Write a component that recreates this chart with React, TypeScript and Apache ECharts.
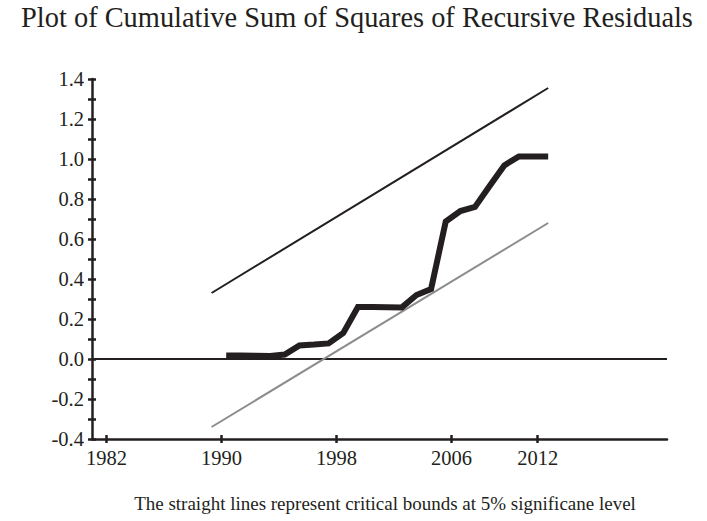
import React, { useEffect, useRef } from "react";
import * as echarts from "echarts";

const titleText = "Plot of Cumulative Sum of Squares of Recursive Residuals";
const captionText = "The straight lines represent critical bounds at 5% significane level";

// x tick labels (years shown on the axis)
const xTickYears = [1982, 1990, 1998, 2006, 2012];

// observations
const years = [
  1990, 1991, 1992, 1993, 1994, 1995, 1996, 1997, 1998, 1999, 2000, 2001,
  2002, 2003, 2004, 2005, 2006, 2007, 2008, 2009, 2010, 2011, 2012,
];
const cusumSq = [
  0.018, 0.017, 0.016, 0.015, 0.022, 0.068, 0.072, 0.078, 0.13, 0.26, 0.26,
  0.259, 0.258, 0.32, 0.35, 0.687, 0.74, 0.76, 0.865, 0.968, 1.013, 1.013,
  1.013,
];

// critical bounds (straight lines)
const boundYears = [1989, 2012];
const upperBound = [0.33, 1.355];
const lowerBound = [-0.34, 0.68];

const INK = "#231f20";
const FONT = "'Liberation Serif', 'Times New Roman', serif";

export default function App() {
  const ref = useRef<HTMLDivElement>(null);

  useEffect(() => {
    if (!ref.current) return;
    const chart = echarts.init(ref.current, null, { renderer: "svg" });

    const yLabelFmt = (v: number) =>
      Math.round(v * 10) % 2 === 0 ? v.toFixed(1) : "";

    const yBase = {
      type: "value" as const,
      min: -0.4,
      max: 1.4,
      interval: 0.1,
      splitLine: { show: false },
    };

    chart.setOption({
      animation: false,
      backgroundColor: "#ffffff",
      grid: { left: 92, right: 40, top: 79, bottom: 82, containLabel: false },
      graphic: [
        {
          type: "text",
          x: 357,
          y: 31,
          style: {
            text: titleText,
            fontFamily: FONT,
            fontSize: 28.4,
            fill: INK,
            textAlign: "center",
            textVerticalAlign: "bottom",
          },
          silent: true,
        },
        {
          type: "text",
          x: 385,
          y: 513,
          style: {
            text: captionText,
            fontFamily: FONT,
            fontSize: 19,
            fill: INK,
            textAlign: "center",
            textVerticalAlign: "bottom",
          },
          silent: true,
        },
      ],
      xAxis: [
        {
          type: "value",
          min: 1981,
          max: 2021,
          position: "bottom",
          splitLine: { show: false },
          axisLine: { show: true, onZero: false, lineStyle: { color: INK, width: 2.5 } },
          axisTick: {
            show: true,
            customValues: xTickYears,
            length: 4,
            lineStyle: { color: INK, width: 2.5 },
          },
          axisLabel: {
            customValues: xTickYears,
            fontFamily: FONT,
            fontSize: 20.5,
            color: INK,
            margin: 8,
            formatter: (v: number) => String(v),
          },
        },
        {
          type: "value",
          min: 1980.83,
          max: 2020.12,
          show: false,
          position: "bottom",
          splitLine: { show: false },
        },
        {
          type: "value",
          min: 1981,
          max: 2021,
          position: "bottom",
          splitLine: { show: false },
          axisLine: { show: false, onZero: false },
          axisTick: {
            show: true,
            inside: true,
            customValues: xTickYears,
            length: 4,
            lineStyle: { color: INK, width: 2.5 },
          },
          axisLabel: { show: false },
        },
      ],
      yAxis: [
        {
          ...yBase,
          position: "left",
          axisLine: { show: true, onZero: false, lineStyle: { color: INK, width: 2.5 } },
          axisTick: { show: true, length: 4, lineStyle: { color: INK, width: 2.5 } },
          axisLabel: {
            formatter: yLabelFmt,
            fontFamily: FONT,
            fontSize: 20.5,
            color: INK,
            margin: 8,
            showMinLabel: true,
            showMaxLabel: true,
          },
        },
        {
          ...yBase,
          position: "left",
          axisLine: { show: false, onZero: false },
          axisTick: {
            show: true,
            inside: true,
            length: 4,
            lineStyle: { color: INK, width: 2.5 },
          },
          axisLabel: { show: false },
        },
      ],
      series: [
        {
          type: "line",
          xAxisIndex: 1,
          yAxisIndex: 0,
          data: boundYears.map((y, i) => [y, upperBound[i]]),
          symbol: "none",
          lineStyle: { color: INK, width: 2 },
          silent: true,
        },
        {
          type: "line",
          xAxisIndex: 1,
          yAxisIndex: 0,
          data: boundYears.map((y, i) => [y, lowerBound[i]]),
          symbol: "none",
          lineStyle: { color: "#8c8c8c", width: 2 },
          silent: true,
        },
        {
          type: "line",
          xAxisIndex: 1,
          yAxisIndex: 0,
          data: years.map((y, i) => [y, cusumSq[i]]),
          symbol: "none",
          lineStyle: { color: INK, width: 6, cap: "butt", join: "miter" },
          silent: true,
          z: 3,
          markLine: {
            silent: true,
            symbol: "none",
            label: { show: false },
            lineStyle: { color: INK, width: 2, type: "solid" },
            data: [{ yAxis: 0 }],
            z: 1,
          },
        },
      ],
    });

    return () => chart.dispose();
  }, []);

  return (
    <div
      ref={ref}
      style={{ position: "fixed", left: 0, top: 0, width: 707, height: 521 }}
    />
  );
}
